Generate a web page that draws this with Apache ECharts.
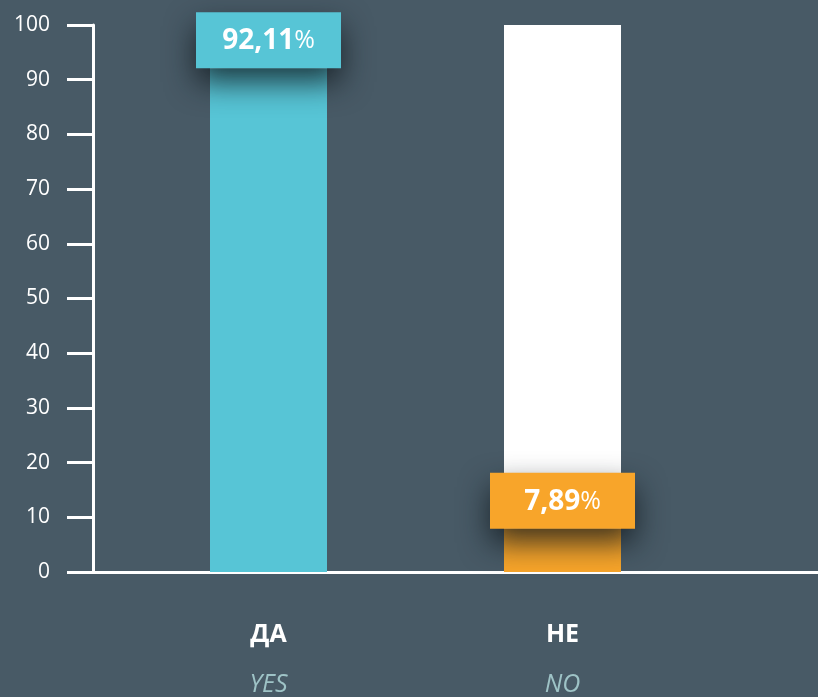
<!DOCTYPE html>
<html>
<head>
<meta charset="utf-8">
<script src="https://cdn.jsdelivr.net/npm/echarts@6/dist/echarts.min.js"></script>
<style>
  html, body { margin: 0; padding: 0; background: #485a66; }
  #chart { width: 818px; height: 697px; }
</style>
</head>
<body>
<div id="chart"></div>
<script>
const categories = ['ДА', 'НЕ'];
const subLabels = ['YES', 'NO'];
const values = [92.11, 7.89];
const barColors = ['#57c5d6', '#f8a52a'];
const yTicks = { min: 0, max: 100, interval: 10 };

const chart = echarts.init(document.getElementById('chart'));

const font = '"Open Sans", sans-serif';

const option = {
  backgroundColor: '#485a66',
  animation: false,
  grid: [
    // axes frame
    { left: 93, right: 0, top: 25, bottom: 125, outerBoundsMode: 'none', containLabel: false },
    // bars
    { left: 121.5, right: 108.5, top: 25, bottom: 125, outerBoundsMode: 'none', containLabel: false }
  ],
  xAxis: [
    {
      gridIndex: 0,
      type: 'value',
      min: 0,
      max: 1,
      axisLine: { show: true, onZero: false, lineStyle: { color: '#ffffff', width: 3 } },
      axisTick: { show: false },
      axisLabel: { show: false },
      splitLine: { show: false }
    },
    {
      gridIndex: 1,
      type: 'category',
      data: categories,
      axisLine: { show: false },
      axisTick: { show: false },
      axisLabel: {
        margin: 38,
        formatter: function (v, i) {
          return '{a|' + v + '}\n{b|' + subLabels[i] + '}';
        },
        rich: {
          a: { color: '#ffffff', fontFamily: font, fontWeight: 'bold', fontSize: 25, lineHeight: 50 },
          b: { color: '#9ec3c6', fontFamily: font, fontStyle: 'italic', fontSize: 25, lineHeight: 50 }
        }
      }
    }
  ],
  yAxis: [
    {
      gridIndex: 0,
      type: 'value',
      min: yTicks.min,
      max: yTicks.max,
      interval: yTicks.interval,
      axisLine: { show: true, lineStyle: { color: '#ffffff', width: 3 } },
      axisTick: { show: true, length: 26, lineStyle: { color: '#ffffff', width: 3 } },
      axisLabel: { color: '#ffffff', fontFamily: font, fontSize: 21, margin: 43 },
      splitLine: { show: false }
    },
    {
      gridIndex: 1,
      type: 'value',
      min: yTicks.min,
      max: yTicks.max,
      show: false
    }
  ],
  series: [
    {
      type: 'bar',
      xAxisIndex: 1,
      yAxisIndex: 1,
      barWidth: 117,
      showBackground: true,
      backgroundStyle: { color: '#ffffff' },
      data: values.map(function (v, i) {
        return { value: v, itemStyle: { color: barColors[i] } };
      }),
      label: {
        show: true,
        position: 'top',
        distance: 0,
        width: 145,
        height: 56,
        lineHeight: 58,
        align: 'center',
        padding: 0,
        shadowColor: 'rgba(15, 22, 28, 0.8)',
        shadowBlur: 30,
        shadowOffsetY: 14,
        backgroundColor: 'inherit',
        formatter: function (p) {
          return '{n|' + p.value.toFixed(2).replace('.', ',') + '}{p|%}';
        },
        rich: {
          n: { color: '#ffffff', fontFamily: font, fontWeight: 'bold', fontSize: 28, lineHeight: 58 },
          p: { color: '#ffffff', fontFamily: font, fontSize: 25, lineHeight: 58 }
        }
      }
    }
  ]
};

chart.setOption(option);
</script>
</body>
</html>
